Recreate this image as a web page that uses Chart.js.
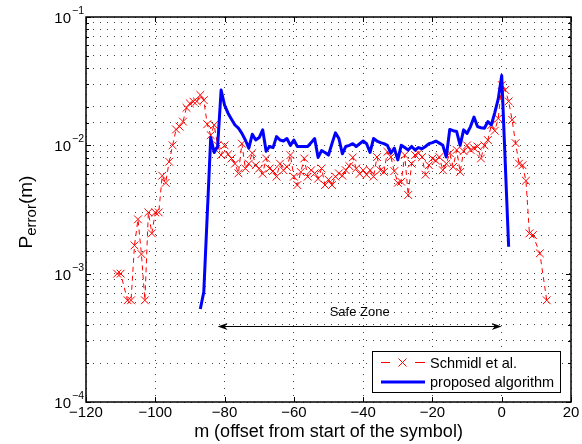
<!DOCTYPE html>
<html>
<head>
<meta charset="utf-8">
<script src="https://cdn.jsdelivr.net/npm/chart.js@4.4.1/dist/chart.umd.min.js"></script>
<style>
  html, body { margin: 0; padding: 0; background: #fff; }
  #wrap { width: 582px; height: 444px; }
</style>
</head>
<body>
<div id="wrap"><canvas id="c" width="582" height="444"></canvas></div>
<script>
// Offsets m (samples) and error probabilities, Schmidl et al.
const schmidlM = [
  -111, -110, -108, -107, -106, -105, -104, -103, -102, -101,
  -100, -99, -98, -97, -96, -95, -94, -93, -92, -91,
  -90, -89, -88, -87, -86, -85, -84, -83, -82, -81,
  -80, -79, -78, -77, -76, -75, -74, -73, -72, -71,
  -70, -69, -68, -67, -66, -65, -64, -63, -62, -61,
  -60, -59, -58, -57, -56, -55, -54, -53, -52, -51,
  -50, -49, -48, -47, -46, -45, -44, -43, -42, -41,
  -40, -39, -38, -37, -36, -35, -34, -33, -32, -31,
  -30, -29, -28, -27, -26, -25, -24, -23, -22, -21,
  -20, -19, -18, -17, -16, -15, -14, -13, -12, -11,
  -10, -9, -8, -7, -6, -5, -4, -3, -2, -1,
  0, 1, 2, 3, 4, 5, 6, 7, 8, 9,
  11, 13
];
const schmidlP = [
  1.0e-3, 1.0e-3, 6.2e-4, 6.2e-4, 1.66e-3, 2.65e-3, 1.42e-3, 6.2e-4, 3.0e-3, 2.06e-3,
  3.0e-3, 3.0e-3, 5.8e-3, 5.1e-3, 7.45e-3, 1.0e-2, 1.33e-2, 1.4e-2, 1.53e-2, 1.96e-2,
  2.12e-2, 2.19e-2, 2.2e-2, 2.47e-2, 2.25e-2, 1.46e-2, 1.2e-2, 1.44e-2, 1.0e-2, 8.4e-3,
  1.0e-2, 8.5e-3, 7.9e-3, 7.2e-3, 6.05e-3, 1.03e-2, 6.6e-3, 7.2e-3, 8.7e-3, 7.0e-3,
  6.6e-3, 6.0e-3, 7.9e-3, 6.6e-3, 6.3e-3, 5.7e-3, 7.2e-3, 6.4e-3, 6.8e-3, 8.4e-3,
  5.7e-3, 4.9e-3, 6.2e-3, 7.9e-3, 5.7e-3, 6.4e-3, 6.05e-3, 5.5e-3, 6.6e-3, 4.9e-3,
  5.4e-3, 4.9e-3, 5.7e-3, 6.05e-3, 5.8e-3, 6.4e-3, 6.9e-3, 8.05e-3, 6.6e-3, 6.0e-3,
  6.4e-3, 5.9e-3, 6.4e-3, 5.7e-3, 8.1e-3, 6.4e-3, 6.2e-3, 8.9e-3, 8.1e-3, 6.3e-3,
  5.1e-3, 5.2e-3, 8.4e-3, 4.1e-3, 7.2e-3, 8.4e-3, 8.7e-3, 8.1e-3, 5.9e-3, 7.0e-3,
  7.9e-3, 7.6e-3, 8.1e-3, 6.4e-3, 7.2e-3, 8.7e-3, 6.8e-3, 9.2e-3, 6.2e-3, 9.0e-3,
  1.0e-2, 9.2e-3, 9.5e-3, 9.8e-3, 7.9e-3, 1.0e-2, 1.1e-2, 1.44e-2, 1.3e-2, 1.62e-2,
  2.95e-2, 2.7e-2, 2.2e-2, 1.58e-2, 1.04e-2, 7.2e-3, 7.0e-3, 5.3e-3, 2.06e-3, 2.0e-3,
  1.44e-3, 6.2e-4
];

// Offsets m and error probabilities, proposed algorithm
const proposedM = [
  -87, -86,
  -84, -83, -82, -81, -80, -79, -78, -77, -76, -75,
  -74, -73, -72, -71, -70, -69, -68, -67, -66, -65,
  -64, -63, -62, -61, -60, -59, -58, -57, -56, -55,
  -54, -53, -52, -51, -50, -49, -48, -47, -46, -45,
  -44, -43, -42, -41, -40, -39, -38, -37, -36, -35,
  -34, -33, -32, -31, -30, -29, -28, -27, -26, -25,
  -24, -23, -22, -21, -20, -19, -18, -17, -16, -15,
  -14, -13, -12, -11, -10, -9, -8, -7, -6, -5,
  -4, -3, -2, -1, 0,
  2
];
const proposedP = [
  5.3e-4, 7.2e-4,
  1.15e-2, 8.8e-3, 9.8e-3, 2.7e-2, 2.06e-2, 1.78e-2, 1.6e-2, 1.44e-2, 1.36e-2, 1.24e-2,
  1.1e-2, 9.5e-3, 1.22e-2, 1.1e-2, 1.15e-2, 1.32e-2, 9.0e-3, 9.8e-3, 9.6e-3, 1.17e-2,
  1.1e-2, 1.08e-2, 1.13e-2, 1.0e-2, 1.1e-2, 9.8e-3, 9.8e-3, 9.8e-3, 9.8e-3, 1.05e-2,
  1.13e-2, 8.05e-3, 9.1e-3, 8.8e-3, 8.4e-3, 1.03e-2, 1.25e-2, 1.13e-2, 8.6e-3, 9.8e-3,
  1.0e-2, 1.03e-2, 9.8e-3, 1.03e-2, 1.08e-2, 1.03e-2, 8.8e-3, 1.13e-2, 1.08e-2, 1.05e-2,
  1.03e-2, 1.0e-2, 8.7e-3, 9.5e-3, 7.7e-3, 1.0e-2, 9.6e-3, 9.2e-3, 9.8e-3, 9.2e-3,
  9.6e-3, 9.4e-3, 9.8e-3, 1.03e-2, 1.05e-2, 1.08e-2, 1.04e-2, 1.0e-2, 8.1e-3, 1.33e-2,
  1.3e-2, 1.28e-2, 1.0e-2, 1.32e-2, 1.24e-2, 1.4e-2, 1.66e-2, 1.4e-2, 1.37e-2, 1.36e-2,
  1.53e-2, 1.44e-2, 1.8e-2, 2.3e-2, 3.5e-2,
  1.62e-3
];

// Axis ranges and labels
const xMin = -120, xMax = 20, xStep = 20;
const yDecades = [-4, -3, -2, -1];
const xTitle = 'm (offset from start of the symbol)';
const yTitleMain = 'P', yTitleSub = 'error', yTitleTail = '(m)';
const seriesNames = ['Schmidl et al.', 'proposed algorithm'];

// Safe zone annotation
const safeFrom = -82, safeTo = 0, safeLevel = 3.9e-4;
const safeText = 'Safe Zone';

const FONT = '"Liberation Sans", Arial, Helvetica, sans-serif';
const RED = 'rgb(255,0,0)';
const BLUE = 'rgb(0,0,255)';

const toXY = (ms, ps) => ms.map((m, i) => ({ x: m, y: ps[i] }));

const isDecade = v => Math.abs(Math.log10(v) - Math.round(Math.log10(v))) < 1e-6;

function drawCross(ctx, cx, cy, h) {
  ctx.beginPath();
  ctx.moveTo(cx - h, cy - h); ctx.lineTo(cx + h, cy + h);
  ctx.moveTo(cx - h, cy + h); ctx.lineTo(cx + h, cy - h);
  ctx.stroke();
}

function arrowHead(ctx, tipX, tipY, dir) {
  const L = 10, W = 3.5, notch = 7;
  ctx.beginPath();
  ctx.moveTo(tipX, tipY);
  ctx.lineTo(tipX + dir * L, tipY - W);
  ctx.lineTo(tipX + dir * notch, tipY);
  ctx.lineTo(tipX + dir * L, tipY + W);
  ctx.closePath();
  ctx.fill();
}

const decorations = {
  id: 'decorations',
  afterDraw(chart) {
    const { ctx, chartArea: a } = chart;
    const xs = chart.scales.x, ys = chart.scales.y;
    ctx.save();

    // inward tick marks
    ctx.strokeStyle = '#000';
    ctx.lineWidth = 1;
    ctx.setLineDash([]);
    ctx.beginPath();
    xs.ticks.forEach(t => {
      const px = Math.round(xs.getPixelForValue(t.value)) + 0.5;
      ctx.moveTo(px, a.bottom); ctx.lineTo(px, a.bottom - 5);
      ctx.moveTo(px, a.top); ctx.lineTo(px, a.top + 5);
    });
    ys.ticks.forEach(t => {
      const len = isDecade(t.value) ? 5 : 3;
      const py = Math.round(ys.getPixelForValue(t.value)) + 0.5;
      ctx.moveTo(a.left, py); ctx.lineTo(a.left + len, py);
      ctx.moveTo(a.right, py); ctx.lineTo(a.right - len, py);
    });
    ctx.stroke();

    // axes box
    ctx.lineWidth = 1.5;
    ctx.strokeRect(a.left, a.top, a.right - a.left, a.bottom - a.top);

    // y tick labels (powers of ten)
    ctx.fillStyle = '#000';
    yDecades.forEach(d => {
      const py = ys.getPixelForValue(Math.pow(10, d));
      ctx.font = '15px ' + FONT;
      ctx.textAlign = 'right';
      ctx.textBaseline = 'middle';
      ctx.fillText('10', a.left - 15, py + 2);
      ctx.font = '10.5px ' + FONT;
      ctx.textAlign = 'left';
      ctx.fillText('\u2212' + Math.abs(d), a.left - 14, py - 6);
    });

    // x axis title
    ctx.font = '18px ' + FONT;
    ctx.textAlign = 'center';
    ctx.textBaseline = 'middle';
    ctx.fillText(xTitle, (a.left + a.right) / 2, 432);

    // y axis title with subscript
    ctx.save();
    ctx.translate(26, 212);
    ctx.rotate(-Math.PI / 2);
    ctx.textAlign = 'left';
    ctx.textBaseline = 'alphabetic';
    ctx.font = '19px ' + FONT;
    const wP = ctx.measureText(yTitleMain).width;
    const wT = ctx.measureText(yTitleTail).width;
    ctx.font = '15px ' + FONT;
    const wS = ctx.measureText(yTitleSub).width;
    let cx = -(wP + wS + wT) / 2;
    ctx.font = '19px ' + FONT;
    ctx.fillText(yTitleMain, cx, 6); cx += wP;
    ctx.font = '15px ' + FONT;
    ctx.fillText(yTitleSub, cx, 10); cx += wS;
    ctx.font = '19px ' + FONT;
    ctx.fillText(yTitleTail, cx, 6);
    ctx.restore();

    // safe zone double arrow
    const xa = xs.getPixelForValue(safeFrom);
    const xb = xs.getPixelForValue(safeTo);
    const ya = Math.round(ys.getPixelForValue(safeLevel)) + 0.5;
    ctx.strokeStyle = '#000';
    ctx.lineWidth = 1;
    ctx.beginPath();
    ctx.moveTo(xa + 6, ya); ctx.lineTo(xb - 6, ya);
    ctx.stroke();
    ctx.fillStyle = '#000';
    arrowHead(ctx, xa, ya, 1);
    arrowHead(ctx, xb, ya, -1);
    ctx.font = '13px ' + FONT;
    ctx.textAlign = 'center';
    ctx.textBaseline = 'middle';
    ctx.fillText(safeText, (xa + xb) / 2, ya - 14);

    // legend
    const lx = 372, ly = 351, lw = 188, lh = 41;
    ctx.fillStyle = '#fff';
    ctx.fillRect(lx, ly, lw, lh);
    ctx.strokeStyle = '#000';
    ctx.lineWidth = 1;
    ctx.strokeRect(lx + 0.5, ly + 0.5, lw, lh);
    const r1 = ly + 11.5, r2 = ly + 31;
    ctx.strokeStyle = RED;
    ctx.lineWidth = 1;
    ctx.beginPath();
    ctx.moveTo(381, r1); ctx.lineTo(390, r1);
    ctx.moveTo(415, r1); ctx.lineTo(425, r1);
    ctx.stroke();
    drawCross(ctx, 402.5, r1, 4);
    ctx.strokeStyle = BLUE;
    ctx.lineWidth = 3;
    ctx.beginPath();
    ctx.moveTo(381, r2); ctx.lineTo(425, r2);
    ctx.stroke();
    ctx.fillStyle = '#000';
    ctx.font = '14.5px ' + FONT;
    ctx.textAlign = 'left';
    ctx.textBaseline = 'middle';
    ctx.fillText(seriesNames[0], 430, r1 + 1);
    ctx.fillText(seriesNames[1], 430, r2 + 1);

    ctx.restore();
  }
};

const gridColor = 'rgba(0,0,0,0.75)';

new Chart(document.getElementById('c'), {
  type: 'line',
  data: {
    datasets: [
      {
        label: seriesNames[0],
        data: toXY(schmidlM, schmidlP),
        borderColor: RED,
        borderWidth: 1,
        borderDash: [5, 4],
        pointStyle: 'crossRot',
        pointRadius: 5.5,
        pointBorderColor: RED,
        pointBorderWidth: 1,
        pointBackgroundColor: RED,
        fill: false,
        tension: 0,
        order: 2
      },
      {
        label: seriesNames[1],
        data: toXY(proposedM, proposedP),
        borderColor: BLUE,
        borderWidth: 3,
        pointRadius: 0,
        fill: false,
        tension: 0,
        borderJoinStyle: 'round',
        order: 1
      }
    ]
  },
  options: {
    responsive: false,
    animation: false,
    devicePixelRatio: 1,
    layout: { padding: { top: 17, right: 11, left: 0, bottom: 0 } },
    plugins: {
      legend: { display: false },
      tooltip: { enabled: false }
    },
    scales: {
      x: {
        type: 'linear',
        min: xMin,
        max: xMax,
        afterFit(scale) { scale.height = 42; },
        ticks: {
          stepSize: xStep,
          padding: 2,
          color: '#000',
          font: { family: FONT, size: 15 },
          maxRotation: 0,
          callback: v => (v < 0 ? '\u2212' + Math.abs(v) : String(v))
        },
        grid: { color: gridColor, lineWidth: 1, drawTicks: false },
        border: { display: false, dash: [1, 6] }
      },
      y: {
        type: 'logarithmic',
        min: 1e-4,
        max: 1e-1,
        afterFit(scale) { scale.width = 86; },
        ticks: { display: false },
        grid: { color: gridColor, lineWidth: 1, drawTicks: false },
        border: { display: false, dash: [1, 6] }
      }
    }
  },
  plugins: [decorations]
});
</script>
</body>
</html>
